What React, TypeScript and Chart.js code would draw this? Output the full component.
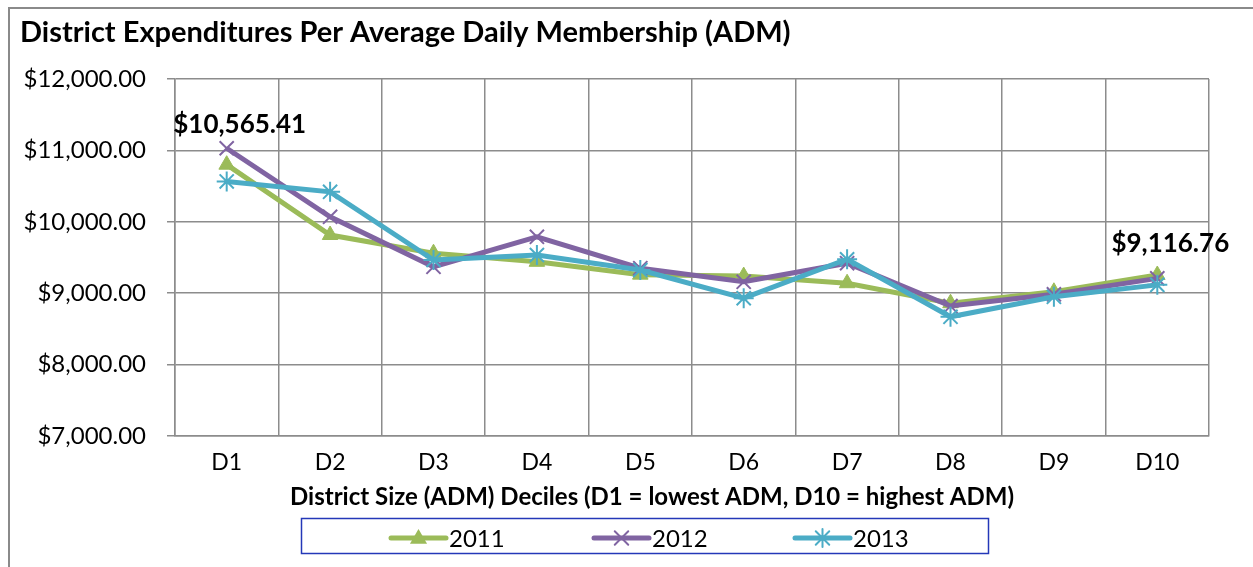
import React, { useEffect, useRef } from "react";
import { Chart, registerables } from "chart.js";

Chart.register(...registerables);

const categories = ["D1", "D2", "D3", "D4", "D5", "D6", "D7", "D8", "D9", "D10"];
const seriesNames = ["2011", "2012", "2013"];
const values2011 = [10800, 9815, 9560, 9440, 9260, 9240, 9140, 8860, 9020, 9255];
const values2012 = [11030, 10070, 9370, 9790, 9350, 9160, 9420, 8820, 8985, 9208];
const values2013 = [10565.41, 10420, 9465, 9535, 9325, 8930, 9475, 8670, 8950, 9116.76];
const yMin = 7000;
const yMax = 12000;
const yStep = 1000;
const chartTitle = "District Expenditures Per Average Daily Membership (ADM)";
const xAxisTitle = "District Size (ADM) Deciles (D1 = lowest ADM, D10 = highest ADM)";
// data labels: which series/point is labelled
const labelledPoints = [
  { series: 2, index: 0 },
  { series: 2, index: 9 },
];

const COLORS = ["#9BBB59", "#8064A2", "#4BACC6"];
const STYLES = ["triangle", "crossRot", "star"];
const FONT = "Lato, 'Open Sans', sans-serif";

const money = (v: number) =>
  "$" + v.toLocaleString("en-US", { minimumFractionDigits: 2, maximumFractionDigits: 2 });

function drawMarker(ctx: CanvasRenderingContext2D, style: string, x: number, y: number, r: number, color: string) {
  ctx.save();
  ctx.strokeStyle = color;
  ctx.fillStyle = color;
  ctx.lineWidth = 2;
  ctx.beginPath();
  if (style === "triangle") {
    ctx.moveTo(x, y - r);
    ctx.lineTo(x + r * 0.95, y + r * 0.65);
    ctx.lineTo(x - r * 0.95, y + r * 0.65);
    ctx.closePath();
    ctx.fill();
  } else if (style === "crossRot") {
    const d = r * 0.75;
    ctx.moveTo(x - d, y - d);
    ctx.lineTo(x + d, y + d);
    ctx.moveTo(x + d, y - d);
    ctx.lineTo(x - d, y + d);
    ctx.stroke();
  } else {
    const d = r * 0.75;
    ctx.moveTo(x - d, y - d);
    ctx.lineTo(x + d, y + d);
    ctx.moveTo(x + d, y - d);
    ctx.lineTo(x - d, y + d);
    ctx.moveTo(x, y - r);
    ctx.lineTo(x, y + r);
    ctx.stroke();
  }
  ctx.restore();
}

const decorPlugin = {
  id: "decor",
  afterDraw(chart: any) {
    const ctx: CanvasRenderingContext2D = chart.ctx;
    ctx.save();
    // outer frame
    ctx.strokeStyle = "#8a8a8a";
    ctx.lineWidth = 2;
    ctx.beginPath();
    ctx.moveTo(9, 567);
    ctx.lineTo(9, 8);
    ctx.lineTo(1253, 8);
    ctx.stroke();

    // title
    ctx.fillStyle = "#000";
    ctx.font = `bold 29px ${FONT}`;
    ctx.textAlign = "left";
    ctx.textBaseline = "middle";
    ctx.fillText(chartTitle, 20, 33);

    // x axis title
    ctx.font = `bold 24px ${FONT}`;
    ctx.textAlign = "center";
    ctx.fillText(xAxisTitle, 652, 497);

    // data labels
    ctx.font = `bold 26px ${FONT}`;
    labelledPoints.forEach((p, k) => {
      const meta = chart.getDatasetMeta(p.series);
      const el = meta.data[p.index];
      const v = chart.data.datasets[p.series].data[p.index];
      const dy = k === 0 ? -57 : -41;
      ctx.fillText(money(v), el.x + 13, el.y + dy);
    });

    // legend
    ctx.strokeStyle = "#2438b8";
    ctx.lineWidth = 1.5;
    ctx.strokeRect(301.5, 518.5, 687, 35);
    const starts = [391, 594, 795];
    const ly = 538;
    ctx.font = `24px ${FONT}`;
    ctx.textAlign = "left";
    seriesNames.forEach((name, i) => {
      ctx.strokeStyle = COLORS[i];
      ctx.lineWidth = 5;
      ctx.lineCap = "round";
      ctx.beginPath();
      ctx.moveTo(starts[i], ly);
      ctx.lineTo(starts[i] + 55, ly);
      ctx.stroke();
      drawMarker(ctx, STYLES[i], starts[i] + 27.5, ly, 9, COLORS[i]);
      ctx.fillStyle = "#000";
      ctx.fillText(name, starts[i] + 58, ly + 1);
    });
    ctx.restore();
  },
};

export default function App() {
  const ref = useRef<HTMLCanvasElement | null>(null);
  useEffect(() => {
    if (!ref.current) return;
    const all = [values2011, values2012, values2013];
    const chart = new Chart(ref.current, {
      type: "line",
      data: {
        labels: categories,
        datasets: all.map((vals, i) => ({
          label: seriesNames[i],
          data: vals,
          borderColor: COLORS[i],
          backgroundColor: COLORS[i],
          borderWidth: 5,
          pointStyle: STYLES[i] as any,
          pointRadius: i === 0 ? 9 : 10,
          pointBorderWidth: i === 0 ? 1 : 2,
          pointBackgroundColor: COLORS[i],
          pointBorderColor: COLORS[i],
          tension: 0,
          fill: false,
          order: 2 - i,
        })),
      },
      options: {
        responsive: false,
        animation: false,
        layout: { padding: { top: 79, right: 44, left: 0, bottom: 0 } },
        plugins: {
          legend: { display: false },
          title: { display: false },
          tooltip: { enabled: false },
        },
        scales: {
          x: {
            offset: true,
            grid: { offset: true, color: "#8c8c8c", lineWidth: 1.5, drawTicks: false },
            border: { color: "#8c8c8c", width: 1.5 },
            ticks: { color: "#000", font: { family: FONT, size: 23 }, padding: 13 },
            afterFit: (s: any) => {
              s.height = 131;
            },
          },
          y: {
            min: yMin,
            max: yMax,
            grid: { color: "#8c8c8c", lineWidth: 1.5, drawTicks: true, tickLength: 8 },
            border: { color: "#8c8c8c", width: 1.5 },
            ticks: {
              stepSize: yStep,
              color: "#000",
              font: { family: FONT, size: 24 },
              padding: 21,
              callback: (v: any) => money(Number(v)),
            },
            afterFit: (s: any) => {
              s.width = 175;
            },
          },
        },
      },
      plugins: [decorPlugin],
    });
    return () => chart.destroy();
  }, []);
  return (
    <div style={{ position: "fixed", left: 0, top: 0, width: 1253, height: 567, background: "#fff" }}>
      <canvas ref={ref} width={1253} height={567} />
    </div>
  );
}
